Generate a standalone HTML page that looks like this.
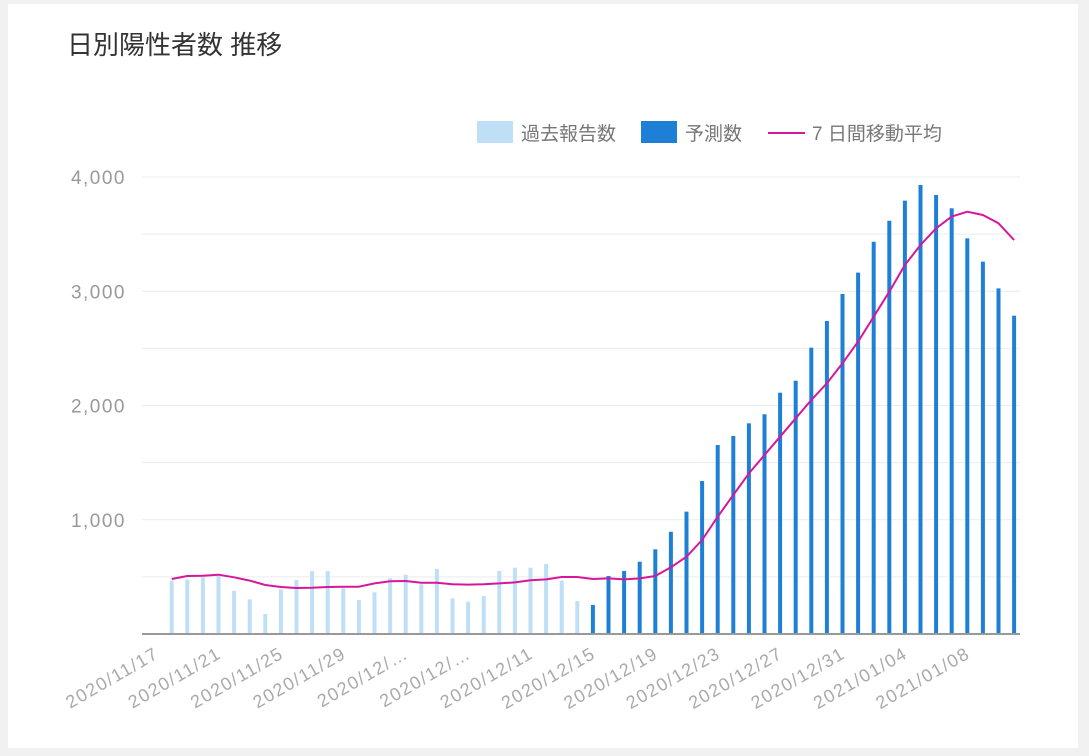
<!DOCTYPE html>
<html><head><meta charset="utf-8"><style>
body{margin:0;background:#f1f1f1;width:1089px;height:756px;overflow:hidden;font-family:"Liberation Sans","Noto Sans CJK JP",sans-serif}
#card{position:absolute;left:8px;top:4px;width:1070px;height:744px;background:#fff}
</style></head><body>
<div id="card"></div>
<svg id="chart" width="1089" height="756" style="position:absolute;left:0;top:0">
<text x="67" y="54" font-size="26" fill="#333" font-family="Liberation Sans, Noto Sans CJK JP, sans-serif">日別陽性者数 推移</text>
<g font-size="19" fill="#777" font-family="Liberation Sans, Noto Sans CJK JP, sans-serif">
<rect x="477" y="121" width="36" height="22" fill="#bfdff7"/>
<text x="521" y="140">過去報告数</text>
<rect x="641" y="121" width="36" height="22" fill="#1e7fd6"/>
<text x="685" y="140">予測数</text>
<line x1="768" y1="133" x2="805" y2="133" stroke="#d6179a" stroke-width="2"/>
<text x="812" y="140">7 日間移動平均</text>
</g>
<g id="grid"></g><g id="bars"></g><g id="axis"></g><g id="line"></g>
</svg>
<script>
const dates=[];
const startDate=new Date(2020,10,17);
for(let i=0;i<56;i++){const d=new Date(startDate);d.setDate(d.getDate()+i);dates.push(d.getFullYear()+'/'+String(d.getMonth()+1).padStart(2,'0')+'/'+String(d.getDate()).padStart(2,'0'));}
const pastValues=[null,467,478,496,508,379,304,175,391,473,551,551,400,298,365,488,519,435,569,312,283,333,551,580,580,613,467,289];
const forecastValues=[254,508,551,633,741,895,1071,1339,1654,1733,1844,1923,2112,2217,2506,2740,2976,3163,3433,3617,3793,3930,3842,3726,3463,3259,3025,2786];
const avgValues=[null,481,508,510,519,496,467,429,411,403,405,411,414,414,443,461,464,449,449,435,432,435,443,452,470,478,499,499,481,487,478,487,508,584,677,823,1027,1217,1406,1567,1727,1888,2048,2194,2369,2559,2777,2996,3230,3405,3551,3653,3696,3667,3595,3449];
const yTicks=[0,1000,2000,3000,4000];
const yTickLabels=["0","1,000","2,000","3,000","4,000"];
const gridVals=[500,1000,1500,2000,2500,3000,3500,4000];
const labelDates=["2020/11/17","2020/11/21","2020/11/25","2020/11/29","2020/12/…","2020/12/…","2020/12/11","2020/12/15","2020/12/19","2020/12/23","2020/12/27","2020/12/31","2021/01/04","2021/01/08"];
const NS='http://www.w3.org/2000/svg';
const X=i=>156.1+i*15.6;
const Y=v=>634-v*0.11425;
function mk(p,tag,at){const e=document.createElementNS(NS,tag);for(const k in at)e.setAttribute(k,at[k]);document.getElementById(p).appendChild(e);return e;}
gridVals.forEach(v=>{const g=mk('grid','line',{x1:142,x2:1020,y1:Y(v),y2:Y(v),stroke:'#ececec','stroke-width':1});

});
yTicks.forEach((v,k)=>{if(k===0)return;const t=mk('axis','text',{x:126,y:Y(v)+7,'text-anchor':'end','font-size':19,'letter-spacing':1.5,fill:'#999'});t.textContent=yTickLabels[k];

});
pastValues.forEach((v,i)=>{if(v==null)return;const r=mk('bars','rect',{x:X(i)-2,y:Y(v),width:4,height:634-Y(v),fill:'#bfdff7'});

});
forecastValues.forEach((v,j)=>{const i=j+pastValues.length;const r=mk('bars','rect',{x:X(i)-2,y:Y(v),width:4,height:634-Y(v),fill:'#1e7fd6'});

});
const ax=mk('axis','line',{x1:142,x2:1020,y1:634,y2:634,stroke:'#999','stroke-width':2});


labelDates.forEach((s,k)=>{const x=X(k*4);const t=mk('axis','text',{x:0,y:0,'text-anchor':'end','font-size':18,'letter-spacing':1.5,fill:'#aaa',transform:`translate(${x+4},${657}) rotate(-30)`});t.textContent=s;

});
let d='';avgValues.forEach((v,i)=>{if(v==null)return;d+=(d?'L':'M')+X(i).toFixed(1)+','+Y(v).toFixed(1);});
const p=mk('line','path',{d:d,fill:'none',stroke:'#d6179a','stroke-width':2,'stroke-linejoin':'round'});


</script>
</body></html>
